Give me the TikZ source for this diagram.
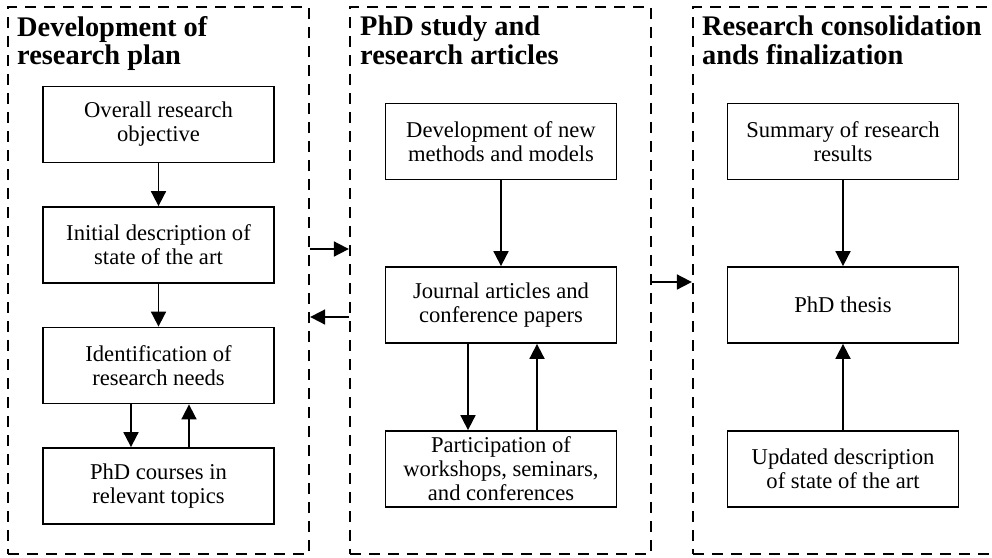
\documentclass[tikz,border=0pt]{standalone}
\usepackage{fontspec}
\setmainfont{Liberation Serif}
\usetikzlibrary{arrows.meta}
\begin{document}
\begin{tikzpicture}[x=1pt,y=-1pt,
  panel/.style={draw, line width=2.3pt, dash pattern=on 11pt off 8pt, rectangle,
    inner sep=0pt, minimum width=301pt, minimum height=547pt},
  stepbox/.style={draw, line width=1.8pt, rectangle, minimum width=231pt,
    minimum height=76pt, align=center, inner sep=0pt,
    font=\fontsize{22.6}{24}\selectfont},
  paneltitle/.style={anchor=north west, align=left, inner sep=0pt,
    font=\fontsize{28.4}{28.5}\selectfont\bfseries},
  flow/.style={-{Triangle[length=15pt,width=15pt]}, line width=1.8pt}]
% page frame
\useasboundingbox (0,0) rectangle (992,557);
\clip (0,0) rectangle (992,557);

% three phases
\node[panel] (p1) at (158.5,280.5) {};
\node[panel] (p2) at (500.5,280.5) {};
\node[panel] (p3) at (843.5,280.5) {};

\node[paneltitle] (t1) at (17,16) {Development of\\research plan};
\node[paneltitle] (t2) at (360,16) {PhD study and\\research articles};
\node[paneltitle] (t3) at (702,16) {Research consolidation\\ands finalization};

% phase 1
\node[stepbox] (b11) at (158.5,124.5) {Overall research\\objective};
\node[stepbox] (b12) at (158.5,245) {Initial description of\\state of the art};
\node[stepbox] (b13) at (158.5,365.5) {Identification of\\research needs};
\node[stepbox] (b14) at (158.5,486) {PhD courses in\\relevant topics};

% phase 2
\node[stepbox] (b21) at (501,141.5) {Development of new\\methods and models};
\node[stepbox] (b22) at (501,305) {Journal articles and\\conference papers};
\node[stepbox] (b23) at (501,469) {Participation of\\workshops, seminars,\\and conferences};

% phase 3
\node[stepbox] (b31) at (843,141.5) {Summary of research\\results};
\node[stepbox] (b32) at (843,305) {PhD thesis};
\node[stepbox] (b33) at (843,469) {Updated description\\of state of the art};

% flows inside phase 1
\draw[flow] (b11.south) -- (b12.north);
\draw[flow] (b12.south) -- (b13.north);
\draw[flow] (b13.south -| 131,0) -- (b14.north -| 131,0);
\draw[flow] (b14.north -| 189,0) -- (b13.south -| 189,0);

% flows inside phase 2
\draw[flow] (b21.south) -- (b22.north);
\draw[flow] (b22.south -| 468,0) -- (b23.north -| 468,0);
\draw[flow] (b23.north -| 537,0) -- (b22.south -| 537,0);

% flows inside phase 3
\draw[flow] (b31.south) -- (b32.north);
\draw[flow] (b33.north) -- (b32.south);

% flows between phases
\draw[flow] (p1.east |- 0,249) -- (p2.west |- 0,249);
\draw[flow] (p2.west |- 0,317) -- (p1.east |- 0,317);
\draw[flow] (p2.east |- 0,282) -- (p3.west |- 0,282);
\end{tikzpicture}
\end{document}
